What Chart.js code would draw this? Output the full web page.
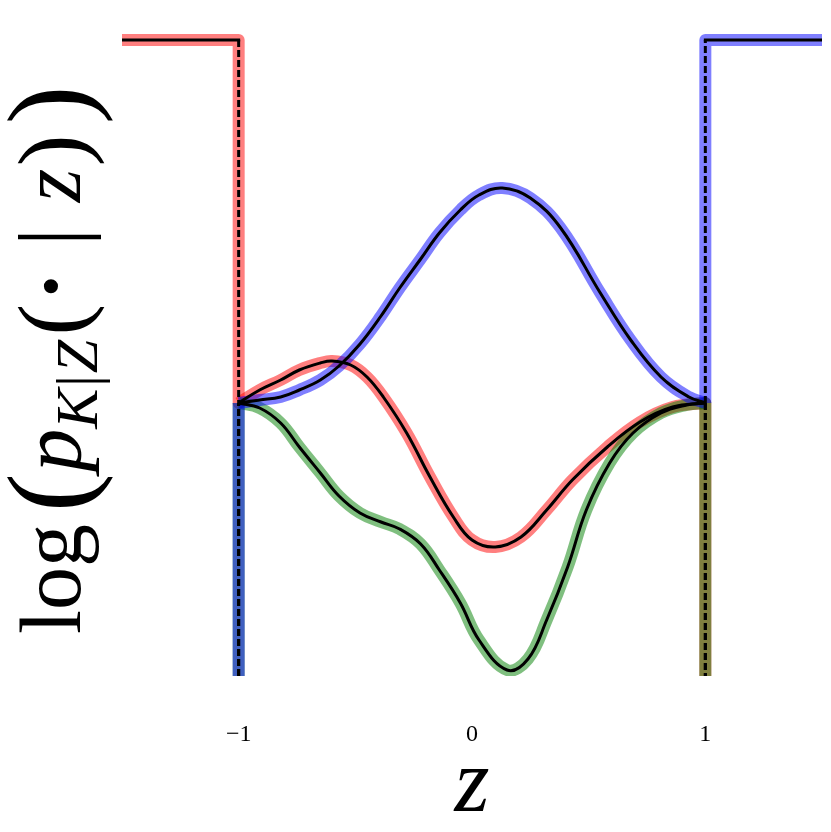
<!DOCTYPE html>
<html><head><meta charset="utf-8">
<script src="https://cdn.jsdelivr.net/npm/chart.js@4/dist/chart.umd.min.js"></script>
<style>html,body{margin:0;background:#fff}#wrap{width:831px;height:832px}</style>
</head><body><div id="wrap"><canvas id="c"></canvas></div>
<script>
const xTicks = [-1, 0, 1];
const xTickLabels = ["\u22121", "0", "1"];
const yTop = 3.70, yFloor = -2.73, stepLevel = 3.63;

const blueX = [-1, -0.91, -0.82, -0.74, -0.65, -0.57, -0.48, -0.39, -0.31, -0.22, -0.14, -0.05, 0.03, 0.13, 0.25, 0.38, 0.55, 0.68, 0.81, 0.93, 1];
const blueY = [0, 0.03, 0.06, 0.13, 0.23, 0.37, 0.59, 0.87, 1.15, 1.44, 1.70, 1.93, 2.08, 2.15, 2.05, 1.75, 1.10, 0.63, 0.26, 0.06, 0];
const redX = [-1, -0.91, -0.82, -0.74, -0.65, -0.60, -0.52, -0.45, -0.38, -0.28, -0.18, -0.08, 0.0, 0.10, 0.21, 0.32, 0.43, 0.58, 0.72, 0.86, 1];
const redY = [0, 0.13, 0.23, 0.33, 0.40, 0.42, 0.38, 0.26, 0.06, -0.30, -0.74, -1.14, -1.37, -1.44, -1.34, -1.07, -0.77, -0.44, -0.19, -0.04, 0];
const greenX = [-1, -0.91, -0.82, -0.74, -0.65, -0.57, -0.48, -0.39, -0.31, -0.22, -0.14, -0.05, 0.03, 0.15, 0.24, 0.32, 0.41, 0.49, 0.59, 0.69, 0.81, 0.92, 1];
const greenY = [0, -0.05, -0.20, -0.44, -0.70, -0.93, -1.10, -1.19, -1.26, -1.41, -1.67, -2.00, -2.37, -2.67, -2.56, -2.17, -1.64, -1.07, -0.60, -0.30, -0.10, -0.02, 0];

// step pieces outside [-1, 1]
const redStepX = [[-1.5, -1, -1], [1, 1]];
const redStepY = [[stepLevel, stepLevel, 0], [0, yFloor]];
const greenStepX = [[-1, -1], [1, 1]];
const greenStepY = [[yFloor, 0], [0, yFloor]];
const blueStepX = [[-1, -1], [1, 1, 1.5]];
const blueStepY = [[yFloor, 0], [0, stepLevel, stepLevel]];

const pts = (xs, ys) => xs.map((x, i) => ({x, y: ys[i]}));

function lines(color, order, cx, cy, sx, sy){
  const out = [];
  const base = {pointRadius:0, borderCapStyle:"butt", borderJoinStyle:"round", fill:false};
  out.push({...base, data: pts(cx, cy), borderColor: color, borderWidth: 12, tension:0.4, order});
  sx.forEach((xs, i) => out.push({...base, data: pts(xs, sy[i]), borderColor: color, borderWidth: 12, tension:0, order}));
  out.push({...base, data: pts(cx, cy), borderColor:"#000", borderWidth: 3, tension:0.4, order:0});
  // black over the steps: one piece per segment, vertical ones dashed
  sx.forEach((xs, i) => {
    for(let k = 1; k < xs.length; k++){
      const vert = xs[k] === xs[k-1];
      out.push({...base, data: pts([xs[k-1], xs[k]], [sy[i][k-1], sy[i][k]]), borderColor:"#000", borderWidth: 3,
        tension:0, order:0, borderDash: vert ? [7, 3] : [], borderCapStyle: vert ? "butt" : "square"});
    }
  });
  return out;
}

const yLabel = {
  id: "yLabel",
  afterDraw(chart){
    const c = chart.ctx, S = 86, F = "'Liberation Serif', serif";
    const parts = [
      ["log", `${S}px ${F}`, 0, 0],
      ["(", `${Math.round(S*1.35)}px ${F}`, 0.14*S, 8],
      ["p", `italic ${S}px ${F}`, 0.02*S, 0],
      ["K", `italic ${Math.round(S*0.7)}px ${F}`, 0, 17],
      ["|", `${Math.round(S*0.7)}px ${F}`, 0.02*S, 17],
      ["Z", `italic ${Math.round(S*0.7)}px ${F}`, 0.02*S, 17],
      ["(", `${Math.round(S*1.1)}px ${F}`, 0.05*S, 4],
      ["\u00b7", `bold ${S}px ${F}`, 0.04*S, 0],
      ["|", `${Math.round(S*1.05)}px ${F}`, 0.3*S, 2],
      ["z", `italic ${S}px ${F}`, 0.3*S, 0],
      [")", `${Math.round(S*1.1)}px ${F}`, 0.03*S, 4],
      [")", `${Math.round(S*1.35)}px ${F}`, 0.12*S, 8]
    ];
    c.save();
    c.translate(80, 634);
    c.rotate(-Math.PI/2);
    c.fillStyle = "#000";
    c.textBaseline = "alphabetic";
    let x = 0;
    parts.forEach(([t, f, gap, dy]) => {
      c.font = f;
      x += gap;
      c.fillText(t, x, dy);
      x += c.measureText(t).width;
    });
    c.restore();
  }
};

const datasets = [
  ...lines("rgba(0,0,255,0.5)", 1, blueX, blueY, blueStepX, blueStepY),
  ...lines("rgba(0,128,0,0.5)", 2, greenX, greenY, greenStepX, greenStepY),
  ...lines("rgba(255,0,0,0.5)", 3, redX, redY, redStepX, redStepY)
];

new Chart(document.getElementById("c"), {
  type: "line",
  data: { datasets },
  options: {
    responsive: true, maintainAspectRatio: false, animation: false,
    layout: { padding: { left: 122, right: 9, top: 33, bottom: 0 } },
    plugins: { legend: {display:false}, tooltip: {enabled:false} },
    scales: {
      x: {
        type: "linear", min: -1.5, max: 1.5,
        grid: { display:false, drawTicks:false }, border: { display:false },
        afterBuildTicks: s => { s.ticks = xTicks.map(v => ({value: v})); },
        afterFit: s => { s.height = 156; },
        ticks: { padding: 44, maxRotation: 0, autoSkip: false, color: "#000",
          font: { family: "'Liberation Serif', serif", size: 24 },
          callback: v => xTickLabels[xTicks.indexOf(v)] },
        title: { display: true, text: "z", color: "#000", padding: {top:0, bottom:0},
          font: { family: "'Liberation Serif', serif", size: 90, style: "italic", lineHeight: 1 } }
      },
      y: { display: false, min: yFloor, max: yTop }
    }
  },
  plugins: [yLabel]
});
</script></body></html>
